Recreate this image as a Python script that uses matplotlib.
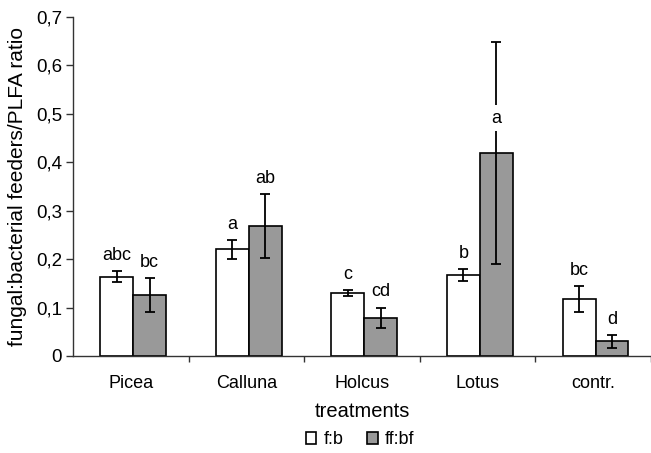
import matplotlib
matplotlib.use("Agg")
import matplotlib.pyplot as plt
import numpy as np
from matplotlib.patches import Patch

categories = ["Picea", "Calluna", "Holcus", "Lotus", "contr."]
fb_values = [0.164, 0.220, 0.130, 0.167, 0.118]
fb_errors = [0.012, 0.020, 0.007, 0.012, 0.027]
ffbf_values = [0.126, 0.268, 0.079, 0.419, 0.030]
ffbf_errors = [0.035, 0.066, 0.021, 0.230, 0.013]
fb_letters = ["abc", "a", "c", "b", "bc"]
ffbf_letters = ["bc", "ab", "cd", "a", "d"]
series_names = ["f:b", "ff:bf"]
y_ticks = [0, 0.1, 0.2, 0.3, 0.4, 0.5, 0.6, 0.7]
y_tick_labels = ["0", "0,1", "0,2", "0,3", "0,4", "0,5", "0,6", "0,7"]

plt.rcParams['font.family'] = ['Liberation Sans', 'DejaVu Sans']

W, H = 651, 453
fig = plt.figure(figsize=(W / 100, H / 100), dpi=100)
ax = fig.add_axes([73 / W, (H - 356) / H, 578 / W, (356 - 17) / H])

x = np.arange(len(categories)) + 0.02
bw = 0.285
gray = "#999999"
ekw = dict(ecolor="black", elinewidth=1.3, capsize=3.5, capthick=1.3)

ax.bar(x - bw / 2, fb_values, bw, color="white", edgecolor="black", linewidth=1.2,
       yerr=fb_errors, error_kw=ekw, label=series_names[0], zorder=2)
ax.bar(x + bw / 2, ffbf_values, bw, color=gray, edgecolor="black", linewidth=1.2,
       yerr=ffbf_errors, error_kw=ekw, label=series_names[1], zorder=2)

lfs = 13
for xi, v, e, t in zip(x - bw / 2, fb_values, fb_errors, fb_letters):
    ax.annotate(t, (xi, v + e), xytext=(0, 8), textcoords="offset points",
                ha="center", va="baseline", fontsize=lfs)
for xi, v, e, t in zip(x + bw / 2, ffbf_values, ffbf_errors, ffbf_letters):
    if v + e > 0.6:
        ax.annotate(t, (xi, v), xytext=(0, 22), textcoords="offset points",
                    ha="center", va="baseline", fontsize=lfs, zorder=5,
                    bbox=dict(facecolor="white", edgecolor="none", pad=3.5))
    else:
        ax.annotate(t, (xi, v + e), xytext=(0, 8), textcoords="offset points",
                    ha="center", va="baseline", fontsize=lfs)

ax.set_xlim(-0.5, -0.5 + 578 / 116)
ax.set_ylim(0, 0.7)
ax.set_yticks(y_ticks)
ax.set_yticklabels(y_tick_labels, fontsize=13.5)
ax.set_xticks(np.arange(len(categories)) + 0.5)
ax.set_xticklabels([])
ax.set_xticks(np.arange(len(categories)), minor=True)
ax.set_xticklabels(categories, minor=True, fontsize=13)
ax.tick_params(axis="x", which="minor", length=0, pad=14)
ax.tick_params(axis="x", which="major", length=4, width=1, direction="out")
ax.tick_params(axis="y", length=5, width=1, direction="out", pad=3)

for s in ["top", "right"]:
    ax.spines[s].set_visible(False)
for s in ["left", "bottom"]:
    ax.spines[s].set_linewidth(1.0)
    ax.spines[s].set_color("#333333")
ax.tick_params(colors="#333333", labelcolor="black")
ax.tick_params(axis="x", which="minor", colors="black")

ax.set_xlabel("treatments", fontsize=14.5, labelpad=7)
ax.set_ylabel("fungal:bacterial feeders/PLFA ratio", fontsize=15, labelpad=6)

handles = [Patch(facecolor="white", edgecolor="black", linewidth=1.2),
           Patch(facecolor=gray, edgecolor="black", linewidth=1.2)]
fig.legend(handles, series_names, loc="center", bbox_to_anchor=(360 / W, 1 - 440 / H),
           ncol=2, frameon=False, fontsize=13, handlelength=0.6, handleheight=0.6,
           handletextpad=0.4, columnspacing=1.3)

fig.savefig("out.png", dpi=100)
